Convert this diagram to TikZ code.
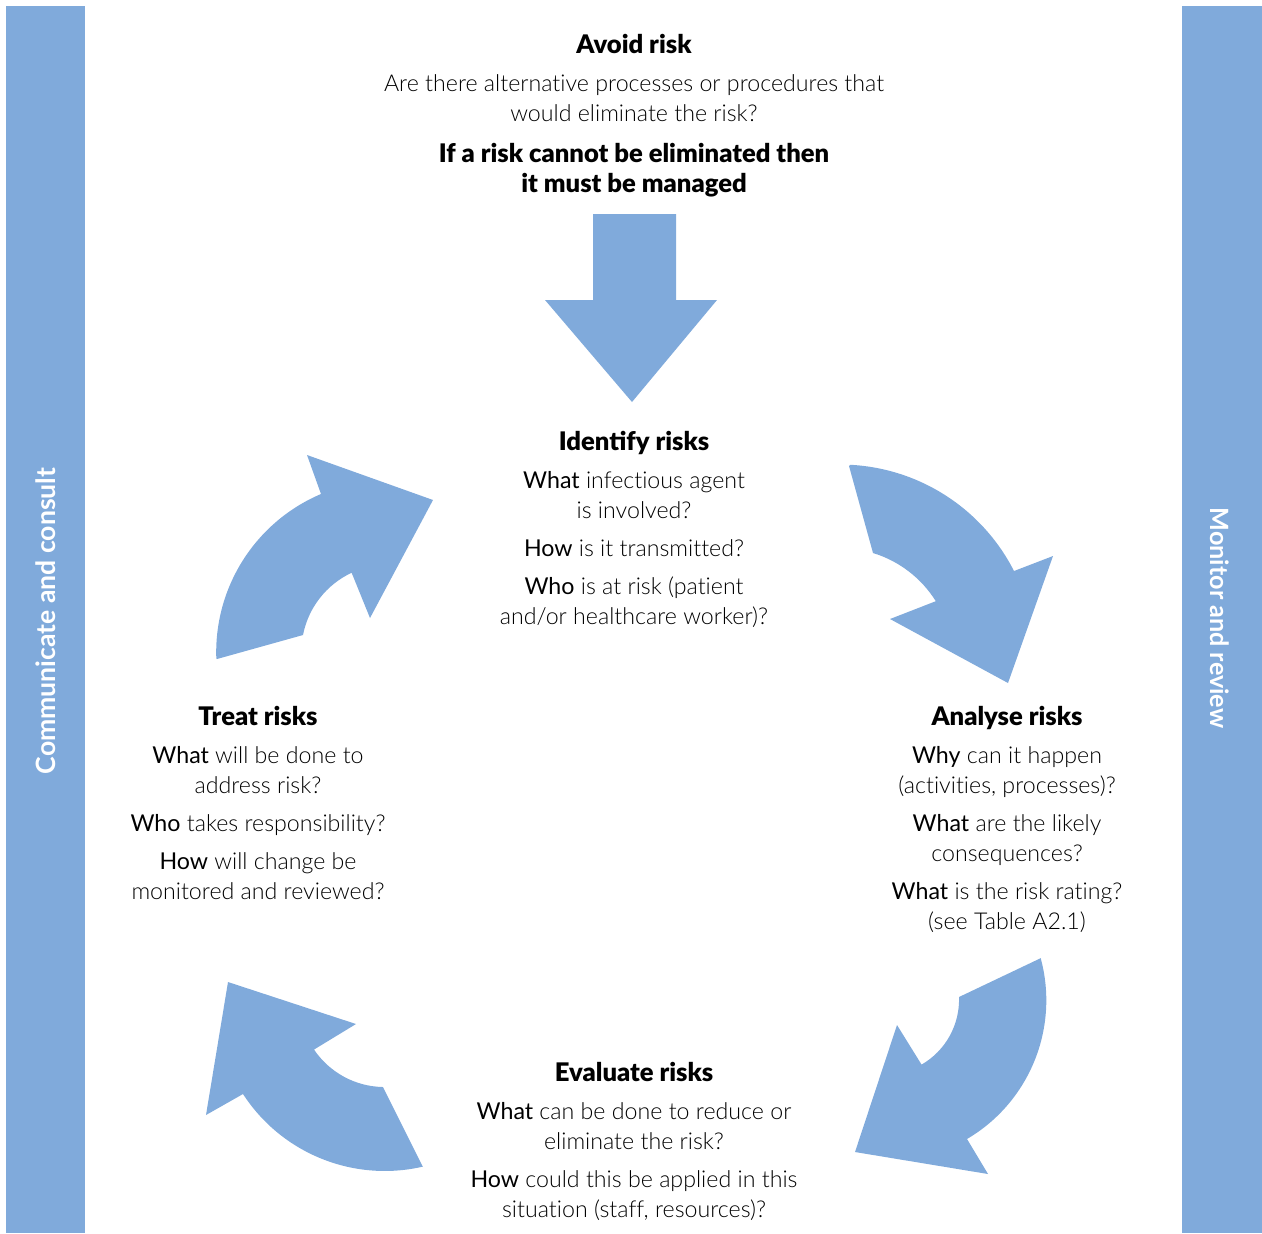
\documentclass[tikz,border=0pt]{standalone}
\usepackage{fontspec}
\setmainfont{Lato}
\newfontfamily\lightfont{Lato Light}[Ligatures=NoCommon]
\newfontfamily\headfont{Lato Black}
\usetikzlibrary{positioning}
\definecolor{riskblue}{RGB}{128,170,219}
\newcommand{\kw}[1]{{\normalfont #1}}
\newcommand{\hd}[1]{{\headfont\fontsize{12.8}{15}\selectfont #1}}

\begin{document}
\begin{tikzpicture}[x=0.5pt,y=-0.5pt,
  bigarrow/.style={fill=riskblue,draw=none},
  stepbox/.style={align=center,inner sep=0pt,anchor=north,
    font=\lightfont\fontsize{11.6}{15}\selectfont},
  sidelabel/.style={text=white,font=\bfseries\fontsize{13.3}{15}\selectfont}]
  \useasboundingbox (0,0) rectangle (1262,1233);

  % Side bars
  \foreach \xa/\xb in {6/85, 1182/1262}
    \fill[riskblue] (\xa,6) rectangle (\xb,1233);
  \node[sidelabel,rotate=90] (comm) at (46,621) {Communicate and consult};
  \node[sidelabel,rotate=-90,font=\bfseries\fontsize{12.6}{15}\selectfont] (monitor) at (1220,618) {Monitor and review};

  % Down arrow
  \fill[bigarrow] (593,214) -- (676,214) -- (676,300) -- (717,300)
    -- (632,402) -- (545,300) -- (593,300) -- cycle;

  % Cycle arrows
  \fill[bigarrow] (849,466) -- (873,553) arc[start angle=-73,end angle=-32,radius=113]
    -- (890,619) -- (1008,683) -- (1053,556)
    -- (1014,571) arc[start angle=-27,end angle=-87,radius=195] -- cycle;
  \fill[bigarrow] (1041,958) -- (959,997) arc[start angle=-2,end angle=60,radius=75]
    -- (897,1025) -- (855,1152) -- (988,1174)
    -- (967,1139) arc[start angle=59.5,end angle=-15,radius=161] -- cycle;
  \fill[bigarrow] (423,1167) -- (383,1087) arc[start angle=91,end angle=146,radius=85]
    -- (356,1024) -- (228,982) -- (206,1115)
    -- (243,1094) arc[start angle=147,end angle=77,radius=169] -- cycle;
  \fill[bigarrow] (217,659) -- (303,635) arc[start angle=191,end angle=245,radius=87]
    -- (370,618) -- (433,500) -- (307,455)
    -- (321,494) arc[start angle=247,end angle=178,radius=172] -- cycle;

  % Texts
  \node[stepbox] (avoid) at (634,34) {\hd{Avoid risk}\\[4pt]
    Are there alternative processes or procedures that\\
    would eliminate the risk?\\[5.5pt]
    \hd{If a risk cannot be eliminated then}\\
    \hd{it must be managed}};
  \node[stepbox] (identify) at (634,431) {\hd{Identify risks}\\[4pt]
    \kw{What} infectious agent\\ is involved?\\[4pt]
    \kw{How} is it transmitted?\\[4pt]
    \kw{Who} is at risk (patient\\ and/or healthcare worker)?};
  \node[stepbox] (analyse) at (1007,706) {\hd{Analyse risks}\\[4pt]
    \kw{Why} can it happen\\ (activities, processes)?\\[4pt]
    \kw{What} are the likely\\ consequences?\\[4pt]
    \kw{What} is the risk rating?\\ (see Table A2.1)};
  \node[stepbox] (treat) at (258,706) {\hd{Treat risks}\\[4pt]
    \kw{What} will be done to\\ address risk?\\[4pt]
    \kw{Who} takes responsibility?\\[4pt]
    \kw{How} will change be\\ monitored and reviewed?};
  \node[stepbox] (evaluate) at (634,1062) {\hd{Evaluate risks}\\[4pt]
    \kw{What} can be done to reduce or\\ eliminate the risk?\\[4pt]
    \kw{How} could this be applied in this\\ situation (staff, resources)?};
\end{tikzpicture}
\end{document}
